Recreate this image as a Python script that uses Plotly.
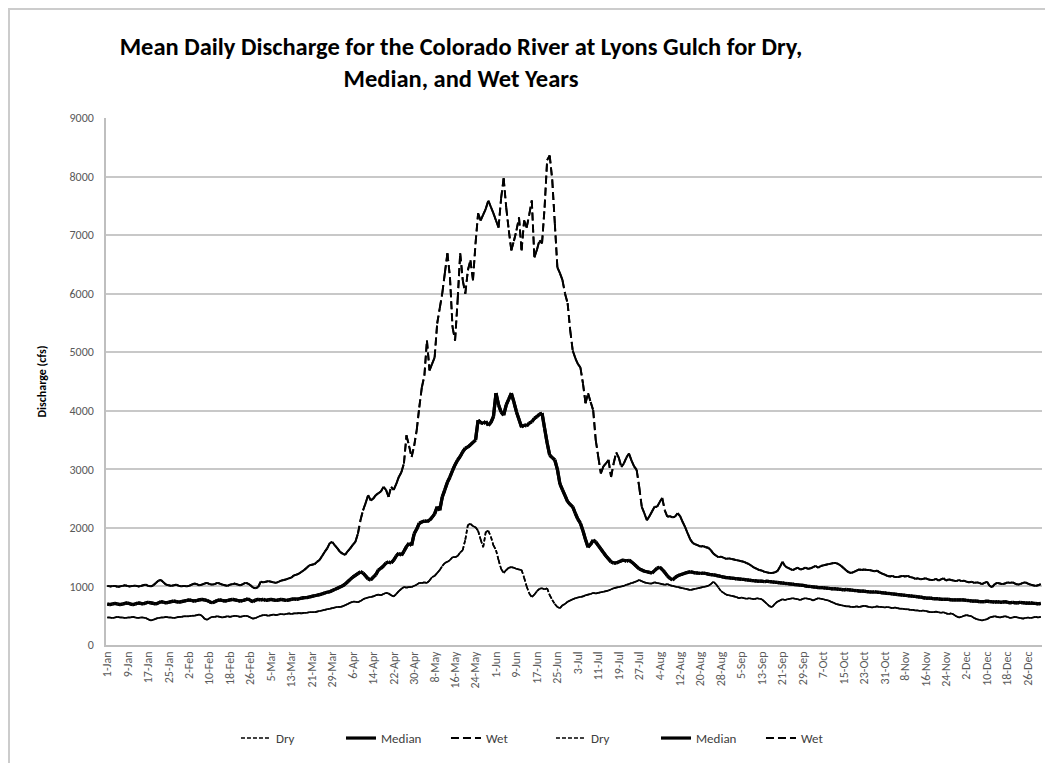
import plotly.graph_objects as go
import pandas as pd

# ---------------- data (cfs), one value per day of a leap year ----------------
wet_jan = [1010, 1000, 1005, 1010, 995, 1000, 1010, 1020, 1005, 1000, 1010, 1015, 1000, 1005, 1020,
           1030, 1010, 1000, 1020, 1060, 1100, 1110, 1070, 1030, 1020, 1010, 1020, 1030, 1010, 1000, 1010]
wet_feb = [1000, 1010, 1030, 1050, 1040, 1020, 1030, 1050, 1060, 1040, 1030, 1040, 1060, 1050, 1030,
           1020, 1010, 1030, 1040, 1050, 1030, 1020, 1040, 1060, 1050, 1020, 980, 970, 990]
wet_mar = [1080, 1070, 1080, 1090, 1080, 1070, 1060, 1080, 1100, 1110, 1120, 1140, 1150, 1190, 1200,
           1220, 1250, 1280, 1320, 1360, 1370, 1380, 1420, 1450, 1520, 1590, 1650, 1740, 1760, 1700, 1650]
wet_apr = [1590, 1560, 1540, 1600, 1650, 1710, 1760, 1900, 2130, 2300, 2420, 2560, 2470, 2500, 2560,
           2590, 2620, 2700, 2650, 2530, 2700, 2650, 2750, 2870, 2950, 3100, 3580, 3400, 3210, 3400]
wet_may = [3670, 4060, 4400, 4600, 5200, 4690, 4800, 4910, 5490, 5750, 6010, 6350, 6690, 6280, 5430,
           5200, 5890, 6690, 6230, 6000, 6400, 6570, 6230, 6860, 7370, 7250, 7350, 7450, 7590, 7480, 7370]
wet_jun = [7250, 7130, 7630, 7970, 7470, 7080, 6740, 6900, 7080, 7300, 6740, 7250, 7130, 7350, 7590,
           6620, 6750, 6910, 6860, 7470, 8280, 8360, 7940, 7200, 6450, 6350, 6230, 6000, 5840, 5380]
wet_jul = [5030, 4900, 4800, 4740, 4470, 4130, 4300, 4150, 4010, 3500, 3210, 2930, 3050, 3100, 3160,
           2870, 3100, 3290, 3200, 3040, 3100, 3200, 3270, 3150, 3050, 2990, 2700, 2360, 2250, 2130, 2200]
wet_aug = [2280, 2360, 2360, 2440, 2510, 2300, 2190, 2200, 2180, 2190, 2250, 2200, 2100, 2010, 1900,
           1800, 1740, 1720, 1700, 1680, 1690, 1670, 1660, 1620, 1560, 1530, 1500, 1510, 1490, 1470, 1480]
wet_sep = [1470, 1460, 1450, 1440, 1430, 1420, 1400, 1380, 1350, 1320, 1300, 1280, 1270, 1250, 1240,
           1230, 1230, 1240, 1260, 1330, 1420, 1350, 1320, 1300, 1280, 1300, 1320, 1290, 1300, 1320]
wet_oct = [1300, 1310, 1330, 1350, 1320, 1350, 1360, 1370, 1380, 1390, 1400, 1400, 1380, 1350, 1310,
           1270, 1240, 1230, 1250, 1270, 1290, 1280, 1290, 1280, 1280, 1270, 1260, 1270, 1240, 1220, 1200]
wet_nov = [1180, 1170, 1180, 1160, 1160, 1170, 1180, 1170, 1180, 1160, 1150, 1130, 1140, 1120, 1130,
           1140, 1120, 1110, 1110, 1130, 1100, 1120, 1140, 1100, 1120, 1110, 1100, 1090, 1110, 1090]
wet_dec = [1100, 1080, 1070, 1080, 1060, 1070, 1060, 1040, 1060, 1080, 1010, 990, 1040, 1060, 1050,
           1040, 1050, 1070, 1060, 1070, 1050, 1030, 1040, 1060, 1070, 1050, 1030, 1020, 1010, 1020, 1040]

med_jan = [700, 690, 700, 710, 700, 690, 700, 710, 720, 700, 690, 700, 720, 710, 700,
           720, 730, 720, 710, 700, 720, 740, 730, 720, 730, 740, 750, 740, 730, 740, 750]
med_feb = [760, 770, 760, 750, 760, 770, 780, 770, 760, 740, 720, 740, 760, 770, 760,
           750, 760, 770, 780, 770, 760, 750, 760, 770, 790, 760, 740, 770, 780]
med_mar = [770, 780, 760, 770, 780, 770, 760, 770, 780, 770, 760, 770, 780, 790, 780,
           790, 800, 810, 810, 820, 830, 840, 850, 860, 870, 890, 900, 910, 930, 950, 970]
med_apr = [990, 1010, 1040, 1080, 1120, 1160, 1190, 1220, 1250, 1230, 1180, 1130, 1110, 1160, 1200,
           1280, 1310, 1350, 1400, 1420, 1400, 1450, 1520, 1570, 1530, 1600, 1680, 1740, 1700, 1900]
med_may = [1980, 2080, 2100, 2120, 2110, 2130, 2180, 2240, 2360, 2300, 2530, 2650, 2780, 2870, 2980,
           3080, 3160, 3220, 3300, 3360, 3380, 3420, 3460, 3500, 3840, 3800, 3780, 3820, 3750, 3800, 3900]
med_jun = [4300, 4100, 3980, 3925, 4100, 4200, 4300, 4150, 3980, 3850, 3720, 3760, 3740, 3790, 3810,
           3870, 3900, 3940, 3960, 3700, 3450, 3240, 3200, 3160, 3000, 2750, 2650, 2550, 2450, 2400]
med_jul = [2360, 2250, 2150, 2080, 1950, 1800, 1670, 1720, 1790, 1760, 1700, 1640, 1580, 1520, 1470,
           1420, 1400, 1400, 1420, 1440, 1450, 1430, 1450, 1420, 1380, 1340, 1300, 1280, 1260, 1250, 1240]
med_aug = [1230, 1270, 1310, 1330, 1290, 1240, 1180, 1140, 1110, 1150, 1180, 1200, 1210, 1230, 1240,
           1250, 1240, 1230, 1230, 1220, 1230, 1220, 1210, 1200, 1200, 1190, 1180, 1170, 1160, 1150, 1150]
med_sep = [1140, 1140, 1130, 1130, 1120, 1120, 1110, 1110, 1100, 1100, 1090, 1090, 1090, 1080, 1090,
           1080, 1080, 1070, 1070, 1060, 1060, 1050, 1050, 1040, 1040, 1030, 1030, 1020, 1020, 1010]
med_oct = [1000, 1000, 990, 990, 980, 980, 980, 970, 970, 960, 960, 960, 950, 950, 940,
           950, 940, 940, 930, 930, 920, 920, 920, 910, 910, 900, 910, 900, 900, 890, 890]
med_nov = [880, 880, 870, 870, 860, 860, 850, 850, 840, 840, 830, 830, 820, 820, 810,
           800, 800, 800, 790, 790, 790, 780, 780, 780, 780, 770, 770, 770, 770, 770]
med_dec = [770, 760, 760, 750, 750, 750, 740, 740, 740, 750, 740, 740, 730, 740, 730,
           730, 740, 730, 720, 730, 720, 720, 730, 720, 720, 710, 720, 710, 710, 700, 710]

dry_jan = [470, 470, 460, 470, 480, 470, 470, 460, 470, 470, 480, 470, 460, 470, 470,
           460, 440, 420, 430, 450, 460, 470, 470, 480, 470, 470, 460, 470, 480, 480, 490]
dry_feb = [490, 490, 500, 500, 510, 520, 500, 450, 430, 460, 480, 480, 490, 480, 470,
           480, 490, 480, 490, 500, 490, 480, 490, 500, 490, 470, 450, 460, 480]
dry_mar = [500, 510, 510, 500, 510, 520, 510, 520, 530, 520, 530, 540, 530, 540, 540,
           545, 540, 550, 550, 560, 560, 560, 570, 580, 590, 600, 610, 620, 630, 640, 650]
dry_apr = [650, 660, 680, 700, 720, 740, 740, 730, 750, 780, 800, 810, 820, 830, 850,
           860, 850, 870, 890, 880, 850, 830, 870, 920, 960, 990, 980, 990, 990, 1010]
dry_may = [1030, 1060, 1060, 1070, 1060, 1100, 1160, 1180, 1230, 1280, 1350, 1400, 1420, 1450, 1500,
           1500, 1520, 1580, 1620, 1800, 2050, 2070, 2030, 2010, 1950, 1800, 1670, 1930, 1950, 1850, 1700]
dry_jun = [1620, 1450, 1300, 1230, 1280, 1320, 1330, 1320, 1300, 1290, 1280, 1150, 1000, 880, 820,
           860, 920, 960, 970, 950, 970, 850, 770, 700, 650, 630, 680, 700, 740, 760]
dry_jul = [780, 800, 810, 820, 830, 850, 860, 870, 890, 880, 890, 900, 910, 920, 930,
           950, 970, 980, 990, 1000, 1010, 1030, 1040, 1060, 1070, 1090, 1110, 1090, 1070, 1060, 1050]
dry_aug = [1050, 1070, 1060, 1050, 1040, 1030, 1040, 1020, 1010, 1000, 990, 980, 970, 960, 950,
           940, 950, 960, 970, 980, 990, 1000, 1010, 1040, 1080, 1040, 980, 920, 890, 860, 850]
dry_sep = [840, 830, 820, 800, 810, 800, 790, 800, 790, 780, 800, 790, 780, 740, 700,
           660, 650, 700, 740, 760, 780, 770, 780, 790, 800, 790, 780, 770, 790, 800]
dry_oct = [790, 780, 760, 780, 800, 790, 780, 770, 760, 740, 720, 700, 690, 680, 670,
           660, 660, 650, 650, 660, 650, 660, 670, 660, 650, 640, 650, 660, 650, 650, 640]
dry_nov = [650, 640, 630, 640, 630, 620, 620, 610, 610, 600, 600, 590, 590, 580, 590,
           580, 570, 560, 560, 570, 560, 550, 560, 540, 530, 540, 520, 490, 470, 480]
dry_dec = [500, 510, 500, 490, 460, 440, 430, 420, 430, 440, 470, 480, 490, 480, 470,
           480, 490, 480, 460, 470, 480, 470, 460, 450, 460, 470, 460, 470, 480, 470, 480]

wet = (wet_jan + wet_feb + wet_mar + wet_apr + wet_may + wet_jun +
       wet_jul + wet_aug + wet_sep + wet_oct + wet_nov + wet_dec)
median = (med_jan + med_feb + med_mar + med_apr + med_may + med_jun +
          med_jul + med_aug + med_sep + med_oct + med_nov + med_dec)
dry = (dry_jan + dry_feb + dry_mar + dry_apr + dry_may + dry_jun +
       dry_jul + dry_aug + dry_sep + dry_oct + dry_nov + dry_dec)

# categories: every day of a leap year, labelled like "1-Jan"
dates = pd.date_range("2012-01-01", "2012-12-31", freq="D")
categories = [f"{d.day}-{d.strftime('%b')}" for d in dates]
tick_every = 8
tick_idx = list(range(0, len(categories), tick_every))
tick_labels = [categories[i] for i in tick_idx]

title_text = ("Mean Daily Discharge for the Colorado River at Lyons Gulch for Dry,<br>"
              "Median, and Wet Years")
y_title = "Discharge (cfs)"


def segmented(values):
    """Split a series into one sub-path per day-to-day step, so the dash
    pattern restarts at every step (as spreadsheet charts draw it)."""
    xs, ys = [], []
    for i in range(len(values) - 1):
        xs += [i, i + 1, None]
        ys += [values[i], values[i + 1], None]
    return xs, ys


FONT = "Carlito, Lato, 'Liberation Sans', sans-serif"

styles = {
    "Dry": dict(width=1.6, dash="4px,2px"),
    "Median": dict(width=3.2, dash="solid"),
    "Wet": dict(width=1.9, dash="8px,4px"),
}
series = [("Dry", dry), ("Median", median), ("Wet", wet)]

fig = go.Figure()
for rep in range(2):
    for name, vals in series:
        xs, ys = segmented(vals)
        st = styles[name]
        fig.add_trace(go.Scatter(
            x=xs, y=ys, mode="lines", name=name,
            connectgaps=False,
            line=dict(color="black", width=st["width"], dash=st["dash"]),
            hoverinfo="skip",
        ))

# page has an 8px body margin: figure is sized to fill the rest of the window
W, H = 1045, 755
ML, MR, MT, MB = 98, 11, 110, 118
PW, PH = W - ML - MR, H - MT - MB

fig.update_layout(
    width=W, height=H,
    paper_bgcolor="white", plot_bgcolor="white",
    margin=dict(l=ML, r=MR, t=MT, b=MB),
    font=dict(family=FONT, size=12, color="#595959"),
    title=dict(text=title_text, x=0.4335, xref="container", xanchor="center",
               y=0.9375, yref="container", yanchor="top",
               font=dict(family=FONT, size=24.5, color="black", weight="bold")),
    showlegend=True,
    legend=dict(orientation="h", xref="container", x=0.5196, xanchor="center",
                yref="container", y=0.033, yanchor="middle",
                font=dict(family=FONT, size=13, color="#404040"),
                entrywidth=60, entrywidthmode="pixels",
                traceorder="normal", bgcolor="rgba(0,0,0,0)"),
    shapes=[dict(type="rect", xref="paper", yref="paper",
                 x0=(1 - ML) / PW, x1=(W + 40 - ML) / PW,
                 y0=-(MB + 40) / PH, y1=(PH + MT - 1) / PH,
                 line=dict(color="#cccccc", width=2), fillcolor="rgba(0,0,0,0)",
                 layer="below")],
)

fig.update_xaxes(
    range=[-0.5, len(categories) - 0.5],
    tickmode="array", tickvals=tick_idx, ticktext=tick_labels,
    tickangle=-90, tickfont=dict(family=FONT, size=12, color="#595959"),
    showgrid=False, zeroline=False,
    showline=True, linecolor="#bfbfbf", linewidth=1.5,
    ticks="", fixedrange=True,
)
fig.update_yaxes(
    range=[0, 9000], dtick=1000, tick0=0,
    tickfont=dict(family=FONT, size=12, color="#595959"),
    showgrid=True, gridcolor="#c8c8c8", gridwidth=2,
    zeroline=False, showline=True, linecolor="#bfbfbf", linewidth=1.5,
    ticks="", ticklabelstandoff=8,
    title=dict(text=f"<b>{y_title}</b>", standoff=20,
               font=dict(family=FONT, size=12, color="black")),
)

fig.write_html("out.html")
